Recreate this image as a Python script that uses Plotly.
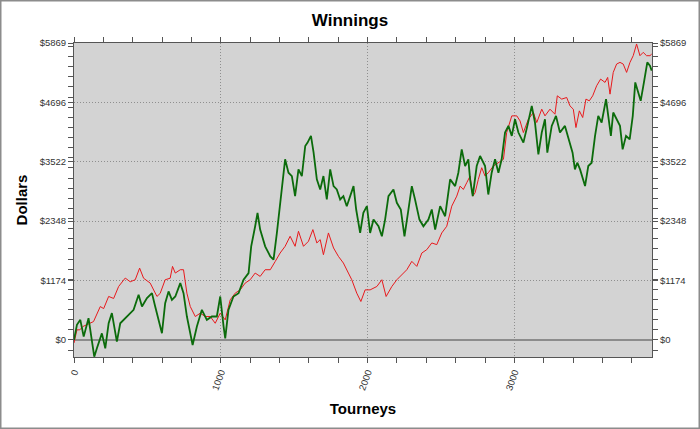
import plotly.graph_objects as go

# ---- data (tourney index, cumulative dollars) ----
red_t = [0, 20, 40, 60, 133, 179, 202, 236, 270, 304, 349, 383, 417, 447, 474, 519, 565, 587, 621, 655, 671,
         690, 724, 746, 769, 792, 826, 860, 894, 928, 962, 996, 1030, 1064, 1098, 1132, 1166, 1200, 1234, 1268,
         1302, 1337, 1371, 1404, 1438, 1472, 1506, 1529, 1563, 1597, 1627, 1654, 1677, 1699, 1733, 1768, 1801,
         1835, 1869, 1892, 1926, 1954, 1983, 2017, 2063, 2097, 2126, 2165, 2199, 2233, 2267, 2301, 2335, 2369,
         2403, 2437, 2471, 2505, 2539, 2573, 2607, 2630, 2652, 2675, 2698, 2716, 2732, 2754, 2777, 2800, 2822,
         2856, 2891, 2925, 2947, 2982, 3016, 3038, 3061, 3095, 3129, 3152, 3186, 3208, 3242, 3276, 3292, 3322,
         3356, 3378, 3401, 3419, 3442, 3465, 3487, 3510, 3533, 3560, 3587, 3617, 3635, 3651, 3673, 3696, 3719,
         3741, 3764, 3787, 3809, 3832, 3855, 3877, 3900, 3923, 3935]
red_v = [-60, 200, 200, 265, 363, 660, 620, 860, 820, 1057, 1223, 1150, 1190, 1420, 1220, 1124, 860, 920, 1190,
         1220, 1454, 1322, 1388, 1388, 925, 660, 463, 529, 463, 463, 330, 529, 397, 793, 925, 990, 1124, 1190,
         1322, 1256, 1388, 1388, 1553, 1718, 1851, 2049, 1851, 2148, 1851, 1950, 2181, 1917, 1983, 1685, 2115,
         1818, 1652, 1520, 1322, 1190, 925, 760, 990, 990, 1057, 1190, 859, 1057, 1190, 1289, 1388, 1553, 1454,
         1718, 1785, 1917, 1884, 2115, 2247, 2644, 2842, 3041, 2974, 3107, 3239, 2842, 2908, 3173, 3404, 3239,
         3305, 3437, 3503, 3570, 4099, 4429, 4429, 4330, 4099, 4363, 4495, 4297, 4561, 4429, 4561, 4462, 4825,
         4760, 4792, 4627, 4561, 4198, 4528, 4396, 4760, 4726, 4825, 5024, 5156, 5090, 5189, 4858, 5288, 5453,
         5486, 5453, 5288, 5486, 5618, 5850, 5618, 5684, 5618, 5618, 5650]

green_t = [0, 20, 43, 66, 99, 122, 138, 156, 190, 213, 236, 258, 274, 292, 315, 360, 406, 440, 463, 497, 531,
           553, 576, 599, 621, 644, 667, 690, 724, 746, 769, 792, 808, 837, 871, 905, 939, 973, 996, 1019, 1030,
           1052, 1086, 1121, 1155, 1189, 1207, 1234, 1250, 1268, 1302, 1337, 1359, 1382, 1404, 1427, 1438, 1461,
           1484, 1506, 1529, 1552, 1575, 1591, 1614, 1632, 1654, 1677, 1699, 1722, 1745, 1768, 1790, 1813, 1835,
           1858, 1881, 1904, 1922, 1949, 1971, 1995, 2017, 2040, 2074, 2097, 2119, 2142, 2176, 2199, 2226, 2251,
           2278, 2301, 2323, 2353, 2380, 2414, 2437, 2460, 2494, 2528, 2562, 2596, 2618, 2641, 2664, 2686, 2698,
           2716, 2743, 2766, 2800, 2822, 2845, 2868, 2891, 2913, 2936, 2959, 2982, 3004, 3027, 3061, 3088, 3118,
           3140, 3163, 3186, 3208, 3224, 3254, 3283, 3310, 3344, 3378, 3396, 3412, 3428, 3447, 3469, 3481, 3503,
           3526, 3549, 3571, 3594, 3624, 3639, 3657, 3673, 3696, 3719, 3737, 3760, 3785, 3806, 3823, 3844, 3860,
           3882, 3905, 3923, 3935]
green_v = [0, 300, 397, 66, 430, 0, -330, -165, 130, -165, 330, 530, 300, -33, 330, 463, 595, 892, 660, 826,
           925, 660, 397, 132, 727, 959, 793, 859, 1124, 925, 463, 132, -100, 264, 595, 397, 463, 463, 859, 264,
           33, 595, 859, 925, 1190, 1322, 1851, 2247, 2512, 2181, 1851, 1652, 1586, 2115, 2644, 3305, 3570, 3305,
           3239, 2842, 3371, 3239, 3834, 3900, 4033, 3702, 3173, 2974, 3239, 2776, 3371, 3041, 2974, 2776, 2842,
           2644, 2842, 3041, 2578, 2115, 2512, 2644, 2115, 2379, 2247, 2049, 2379, 2842, 2974, 2710, 2578, 2049,
           2578, 3041, 2776, 2379, 2247, 2379, 2578, 2181, 2644, 2445, 3173, 3041, 3305, 3767, 3437, 3570, 3173,
           2842, 3437, 3636, 3437, 2875, 3305, 3570, 3305, 3570, 4099, 4231, 4033, 4363, 4099, 3900, 4231, 4627,
           4297, 3668, 4099, 4363, 3702, 4231, 4429, 4099, 4231, 3900, 3702, 3371, 3503, 3371, 3173, 3041, 3437,
           3503, 4033, 4429, 4297, 4760, 4429, 4033, 4495, 4363, 4231, 3767, 4033, 3966, 4429, 5090, 4891, 4726,
           5090, 5486, 5420, 5322]

y_tickvals = [0, 1174, 2348, 3522, 4696, 5869]
y_ticktext = ["$0", "$1174", "$2348", "$3522", "$4696", "$5869"]
x_tickvals = [0, 1000, 2000, 3000]
x_ticktext = ["0", "1000", "2000", "3000"]

Y_RANGE = [-337, 5869]
X_RANGE = [0, 3937]
FONT = "Liberation Sans, Arial, sans-serif"
AX = "#555555"
GRID = "#8f8f8f"

fig = go.Figure()
fig.add_trace(go.Scatter(x=red_t, y=red_v, mode="lines", line=dict(color="#e8191c", width=1),
                         showlegend=False, hoverinfo="skip"))
fig.add_trace(go.Scatter(x=green_t, y=green_v, mode="lines", line=dict(color="#0b6b0b", width=1.8),
                         showlegend=False, hoverinfo="skip"))
# invisible trace to carry the right-hand axis
fig.add_trace(go.Scatter(x=[0], y=[0], mode="lines", yaxis="y2", line=dict(width=0),
                         showlegend=False, hoverinfo="skip"))

tickfont = dict(family=FONT, size=9.5, color="#333333")

fig.update_layout(
    width=700, height=429, autosize=False,
    margin=dict(l=74, r=48, t=43, b=72),
    paper_bgcolor="white", plot_bgcolor="#d3d3d3",
    title=dict(text="<b>Winnings</b>", x=0.5, xanchor="center", y=0.953, yanchor="middle",
               font=dict(family=FONT, size=17, color="black")),
    xaxis=dict(range=X_RANGE, tickmode="array", tickvals=x_tickvals, ticktext=x_ticktext,
               tickangle=-70, tickfont=tickfont, ticks="outside", ticklen=5, tickcolor=AX,
               showline=True, linecolor=AX, linewidth=1, mirror="allticks",
               showgrid=True, gridcolor=GRID, griddash="1px,2px", gridwidth=1, zeroline=False,
               minor=dict(tickmode="linear", tick0=0, dtick=200, ticks="outside", ticklen=5,
                          tickcolor=AX, showgrid=False),
               title=dict(text="<b>Tourneys</b>", font=dict(family=FONT, size=15, color="black"),
                          standoff=12)),
    yaxis=dict(range=Y_RANGE, tickmode="array", tickvals=y_tickvals, ticktext=y_ticktext,
               tickfont=tickfont, ticks="outside", ticklen=5, tickcolor=AX,
               showline=True, linecolor=AX, linewidth=1,
               showgrid=True, gridcolor=GRID, griddash="1px,2px", gridwidth=1,
               zeroline=True, zerolinecolor="#8c8c8c", zerolinewidth=2,
               minor=dict(tickmode="linear", tick0=0, dtick=200, ticks="outside", ticklen=5,
                          tickcolor=AX, showgrid=False),
               title=dict(text="<b>Dollars</b>", font=dict(family=FONT, size=15, color="black"),
                          standoff=8)),
    yaxis2=dict(range=Y_RANGE, overlaying="y", side="right", tickmode="array",
                tickvals=y_tickvals, ticktext=y_ticktext, tickfont=tickfont,
                ticks="outside", ticklen=5, tickcolor=AX, showline=True, linecolor=AX, linewidth=1,
                showgrid=False, zeroline=False,
                minor=dict(tickmode="linear", tick0=0, dtick=200, ticks="outside", ticklen=5,
                           tickcolor=AX, showgrid=False)),
    shapes=[dict(type="rect", xref="paper", yref="paper",
                 x0=(0.75 - 74) / 578, x1=(699.25 - 74) / 578,
                 y0=(357 - 428.25) / 314, y1=(357 - 0.75) / 314,
                 line=dict(color="#8c8c8c", width=1.5), fillcolor="rgba(0,0,0,0)", layer="below")],
)

fig.write_html("out.html", config={"displayModeBar": False},
               post_script="document.body.style.margin='0';document.body.style.overflow='hidden';")
